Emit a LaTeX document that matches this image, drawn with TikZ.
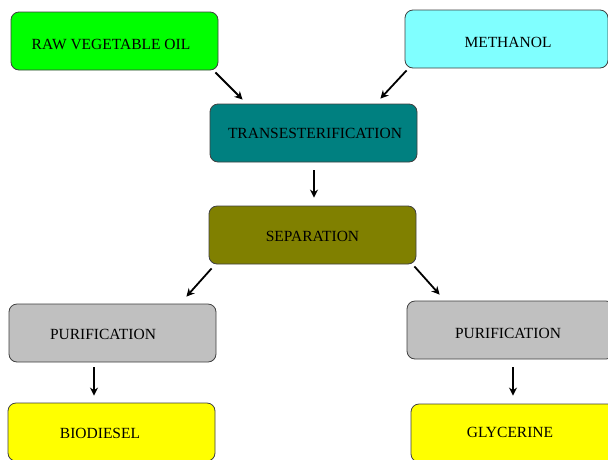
\documentclass[tikz,border=0pt]{standalone}
\usepackage{fontspec}
\setmainfont{Liberation Serif}
\usetikzlibrary{arrows.meta,calc}
\definecolor{cgreen}{HTML}{00FF00}
\definecolor{ccyan}{HTML}{80FFFF}
\definecolor{cteal}{HTML}{008080}
\definecolor{colive}{HTML}{808000}
\definecolor{cgray}{HTML}{C0C0C0}
\definecolor{cyellow}{HTML}{FFFF00}
\definecolor{cborder}{HTML}{404040}
\begin{document}
\begin{tikzpicture}[x=1pt,y=-1pt,
  box/.style={draw=cborder,line width=0.8pt,rounded corners=8pt,minimum width=207pt,minimum height=58pt,inner sep=0pt},
  txt/.style={font=\fontsize{15.5}{17}\selectfont,text=black,inner sep=0pt},
  arr/.style={line width=1.8pt,-{Stealth[length=8pt,width=8pt]}}]
\useasboundingbox (0,0) rectangle (608,459);
\fill[white] (0,0) rectangle (608,459);
\node[box,fill=cgreen] (raw) at (114.5,41) {};
\node[box,fill=ccyan,minimum width=203pt] (meth) at (506.5,39) {};
\node[box,fill=cteal] (trans) at (313.5,133) {};
\node[box,fill=colive] (sep) at (312.5,235) {};
\node[box,fill=cgray] (lpur) at (112.5,333) {};
\node[box,fill=cgray] (rpur) at (510.5,330) {};
\node[box,fill=cyellow] (bio) at (111.5,432) {};
\node[box,fill=cyellow] (gly) at (514.5,433) {};
\node[txt] (rawt) at ([xshift=-3.5pt,yshift=-3pt]raw.center) {RAW VEGETABLE OIL};
\node[txt] (metht) at ([xshift=1.5pt,yshift=-3pt]meth.center) {METHANOL};
\node[txt] (transt) at ([xshift=1.5pt,yshift=0pt]trans.center) {TRANSESTERIFICATION};
\node[txt] (sept) at ([xshift=0pt,yshift=-1pt]sep.center) {SEPARATION};
\node[txt] (lpurt) at ([xshift=-9.5pt,yshift=-1pt]lpur.center) {PURIFICATION};
\node[txt] (rpurt) at ([xshift=-2.5pt,yshift=-3pt]rpur.center) {PURIFICATION};
\node[txt] (biot) at ([xshift=-11.5pt,yshift=-1pt]bio.center) {BIODIESEL};
\node[txt] (glyt) at ([xshift=-4.5pt,yshift=1pt]gly.center) {GLYCERINE};
\draw[arr] ([xshift=-3pt,yshift=-2pt]raw.south east) -- ([xshift=33pt,yshift=4pt]trans.north west);
\draw[arr] ([xshift=2pt,yshift=-2pt]meth.south west) -- ([xshift=-37pt,yshift=5pt]trans.north east);
\draw[arr] ([xshift=0.5pt,yshift=-8pt]trans.south) -- ([xshift=1.5pt,yshift=8pt]sep.north);
\draw[arr] ([xshift=3pt,yshift=-4pt]sep.south west) -- ([xshift=-30pt,yshift=7pt]lpur.north east);
\draw[arr] ([xshift=-2pt,yshift=-2pt]sep.south east) -- ([xshift=33pt,yshift=6pt]rpur.north west);
\draw[arr] ([xshift=-18.5pt,yshift=-5pt]lpur.south) -- ([xshift=-17.5pt,yshift=7pt]bio.north);
\draw[arr] ([xshift=2.5pt,yshift=-8pt]rpur.south) -- ([xshift=-1.5pt,yshift=8pt]gly.north);
\end{tikzpicture}
\end{document}
